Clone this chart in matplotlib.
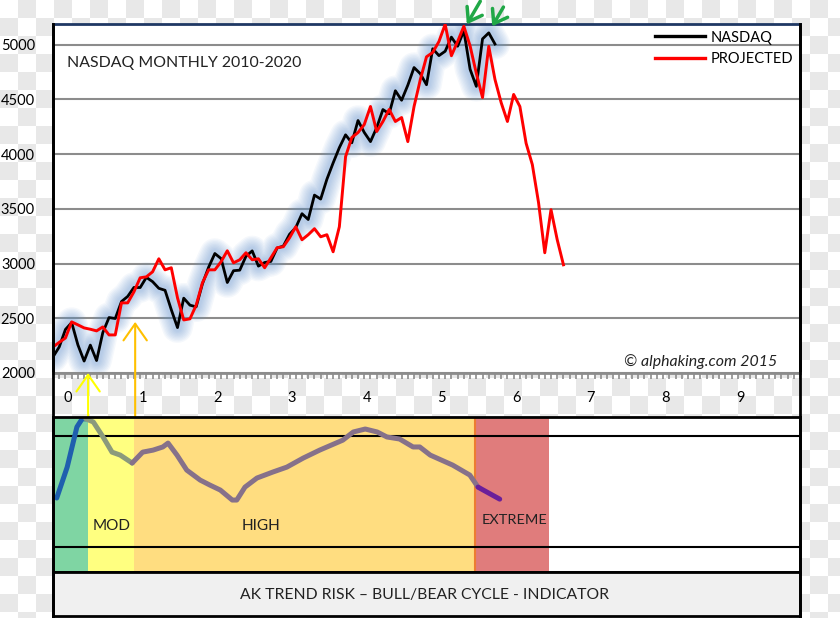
import numpy as np
import matplotlib.pyplot as plt
from matplotlib.colors import ListedColormap
from matplotlib.lines import Line2D

plt.rcParams['font.family'] = ['Lato', 'DejaVu Sans']

# monthly closes, Jan 2010 .. Dec 2015
nasdaq = [2147, 2238, 2398, 2461, 2257, 2109, 2255, 2114, 2369, 2507, 2498, 2653,
          2700, 2782, 2781, 2874, 2835, 2774, 2756, 2579, 2415, 2684, 2620, 2605,
          2814, 2967, 3092, 3046, 2827, 2935, 2940, 3067, 3116, 2977, 3010, 3020,
          3142, 3160, 3268, 3329, 3456, 3403, 3626, 3590, 3771, 3920, 4060, 4177,
          4104, 4308, 4199, 4115, 4243, 4408, 4370, 4580, 4493, 4631, 4792, 4736,
          4635, 4964, 4901, 4941, 5070, 4987, 5128, 4777, 4620, 5054, 5109, 5007]
projected = [2238, 2280, 2320, 2467, 2440, 2412, 2400, 2385, 2421, 2348, 2348, 2641,
             2641, 2742, 2870, 2879, 2925, 3044, 2943, 2962, 2687, 2485, 2495, 2620,
             2824, 2943, 2943, 3017, 3117, 3007, 3035, 3099, 3035, 3044, 2962, 3053,
             3145, 3154, 3236, 3337, 3218, 3264, 3319, 3245, 3264, 3108, 3337, 3978,
             4152, 4198, 4271, 4436, 4207, 4299, 4409, 4299, 4335, 4115, 4436, 4680,
             4890, 4930, 5030, 5187, 4900, 5030, 5169, 4990, 4740, 4518, 4986, 4683,
             4470, 4299, 4546, 4436, 4100, 3905, 3557, 3099, 3493, 3218, 2989]
years = ['0', '1', '2', '3', '4', '5', '6', '7', '8', '9']

# trend risk indicator
risk_t = [-0.15, -0.01, 0.12, 0.19, 0.24, 0.34, 0.47, 0.59, 0.70, 0.86, 1.00, 1.14,
          1.27, 1.34, 1.46, 1.59, 1.77, 1.90, 2.04, 2.20, 2.26, 2.37, 2.53, 2.74,
          2.93, 3.15, 3.37, 3.68, 3.82, 3.98, 4.14, 4.27, 4.44, 4.62, 4.71, 4.85,
          5.15, 5.38, 5.49, 5.56, 5.78]
risk_v = [46.5, 63.2, 84.9, 89.3, 89.3, 87.6, 79.5, 71.3, 69.7, 65.4, 71.3, 72.4,
          74.1, 76.2, 69.7, 61.6, 56.2, 53.5, 50.8, 45.4, 45.4, 52.4, 57.3, 60.5,
          63.2, 68.1, 72.4, 77.8, 82.2, 83.8, 82.2, 79.5, 78.4, 74.1, 74.1, 69.7,
          64.3, 58.9, 52.4, 50.8, 45.9]
zone_start = [-0.2, 0.27, 0.89, 5.45]
zone_end = [0.27, 0.89, 5.45, 6.44]
zone_colors = ['#7fd5a3', '#ffff80', '#ffdd80', '#e07c7c']

W, H = 840, 618
fig = plt.figure(figsize=(W / 100, H / 100), dpi=100)


def box(x0, y0, x1, y1):
    return [x0 / W, 1 - y1 / H, (x1 - x0) / W, (y1 - y0) / H]


# transparent-png style checker background
bg = fig.add_axes([0, 0, 1, 1], zorder=-5)
cell = 18
nr, nc = H // cell + 1, W // cell + 1
checker = np.add.outer(np.arange(nr), np.arange(nc)) % 2
bg.imshow(checker, cmap=ListedColormap(['white', '#e8e8e8']),
          extent=(0, nc * cell, nr * cell, 0), interpolation='nearest', aspect='auto')
bg.set_xlim(0, W)
bg.set_ylim(H, 0)
bg.axis('off')

# main chart
ax = fig.add_axes(box(53, 24, 800, 373))
t_n = np.arange(len(nasdaq)) / 12 - 0.2
t_p = np.arange(len(projected)) / 12 - 0.2
# soft blue glow behind the nasdaq line
for lw in range(22, 4, -2):
    ax.plot(t_n, nasdaq, color='#5b8ccc', lw=lw, alpha=0.06,
            solid_capstyle='round', solid_joinstyle='round')
ax.plot(t_n, nasdaq, color='black', lw=2, label='NASDAQ', zorder=3)
ax.plot(t_p, projected, color='red', lw=2.1, label='PROJECTED', zorder=4)

ax.set_xlim(-0.2, 9.8)
ax.set_ylim(2000, 5190)
ax.set_yticks([2000, 2500, 3000, 3500, 4000, 4500, 5000])
ax.set_xticks(range(10))
ax.set_xticklabels(years)
ax.set_xticks(np.arange(-0.2, 9.81, 1 / 12), minor=True)
ax.tick_params(axis='x', which='major', length=0, pad=13, labelsize=10.5)
ax.tick_params(axis='x', which='minor', length=4, width=1.2, color='#8c8c8c')
ax.tick_params(axis='y', length=0, pad=13, labelsize=10.5)
ax.grid(axis='y', color='#8c8c8c', lw=1.5)
ax.set_axisbelow(True)
ax.spines['top'].set_color('#1f3864')
ax.spines['bottom'].set_color('#8c8c8c')
for s in ax.spines.values():
    s.set_linewidth(2)

leg = ax.legend(loc='upper right', bbox_to_anchor=(1, 1), frameon=False, fontsize=10.5,
                handlelength=3.4, handletextpad=0.4, labelspacing=0.5, borderaxespad=0.05)
for h in leg.get_lines():
    h.set_linewidth(2.4)
ax.text(0.019, 0.888, 'NASDAQ MONTHLY 2010-2020', transform=ax.transAxes,
        fontsize=11.4, va='center', color='#222222')
ax.text(0.969, 0.032, '© alphaking.com 2015', transform=ax.transAxes,
        fontsize=11.4, style='italic', ha='right', va='center', color='#222222')

# arrows
ax.annotate('', xy=(0.27, 2000), xytext=(0.27, 1597), annotation_clip=False,
            arrowprops=dict(arrowstyle='->,head_length=0.5,head_width=0.35', color='#ffff00',
                            lw=1.5, shrinkA=0, shrinkB=0, mutation_scale=24))
ax.annotate('', xy=(0.9, 2467), xytext=(0.9, 1606), annotation_clip=False,
            arrowprops=dict(arrowstyle='->,head_length=0.5,head_width=0.35', color='#ffc000',
                            lw=1.5, shrinkA=0, shrinkB=0, mutation_scale=24))
for tip, tail in [((5.34, 5187), (5.52, 5398)), ((5.68, 5169), (5.83, 5345))]:
    ax.annotate('', xy=tip, xytext=tail, annotation_clip=False,
                arrowprops=dict(arrowstyle='->,head_length=0.5,head_width=0.35', color='#21a847',
                                lw=2.5, shrinkA=0, shrinkB=0, mutation_scale=18))

# indicator panel
ax2 = fig.add_axes(box(53, 417, 800, 572))
for x0, x1, c in zip(zone_start, zone_end, zone_colors):
    ax2.axvspan(x0, x1, color=c, lw=0)
ax2.axvline(5.45, color='#ed7d31', lw=1.5)
ax2.axhline(80, color='black', lw=1.5)
ax2.axhline(20, color='black', lw=1.5)
segs = [(0, 5, '#1f5fae'), (4, 10, '#8b9a7c'), (9, 39, '#86718a'), (38, 41, '#6a1f9a')]
for a, b, c in segs:
    ax2.plot(risk_t[a:b], risk_v[a:b], color=c, lw=3.6, solid_capstyle='round',
             solid_joinstyle='round')
ax2.text(0.33, 31.5, 'MOD', fontsize=11, va='center', color='#222222')
ax2.text(2.33, 31.5, 'HIGH', fontsize=11, va='center', color='#222222')
ax2.text(5.54, 34.5, 'EXTREME', fontsize=10.4, va='center', color='#222222')
ax2.set_xlim(-0.2, 9.8)
ax2.set_ylim(6.5, 90.3)
ax2.set_xticks([])
ax2.set_yticks([])
for s in ax2.spines.values():
    s.set_linewidth(2)

# caption box
ax3 = fig.add_axes(box(53, 572, 800, 616), facecolor='#f0f0f0')
ax3.text(0.497, 0.48, 'AK TREND RISK \u2013 BULL/BEAR CYCLE - INDICATOR', transform=ax3.transAxes,
         fontsize=11.3, ha='center', va='center', color='#222222')
ax3.set_xticks([])
ax3.set_yticks([])
for s in ax3.spines.values():
    s.set_linewidth(2)

# outer frame lines running through the gap
fig.add_artist(Line2D([53 / W, 53 / W], [1 / H, 1 - 24 / H], color='black', lw=2))
fig.add_artist(Line2D([800 / W, 800 / W], [1 / H, 1 - 24 / H], color='black', lw=2))

fig.savefig('out.png', dpi=100)
